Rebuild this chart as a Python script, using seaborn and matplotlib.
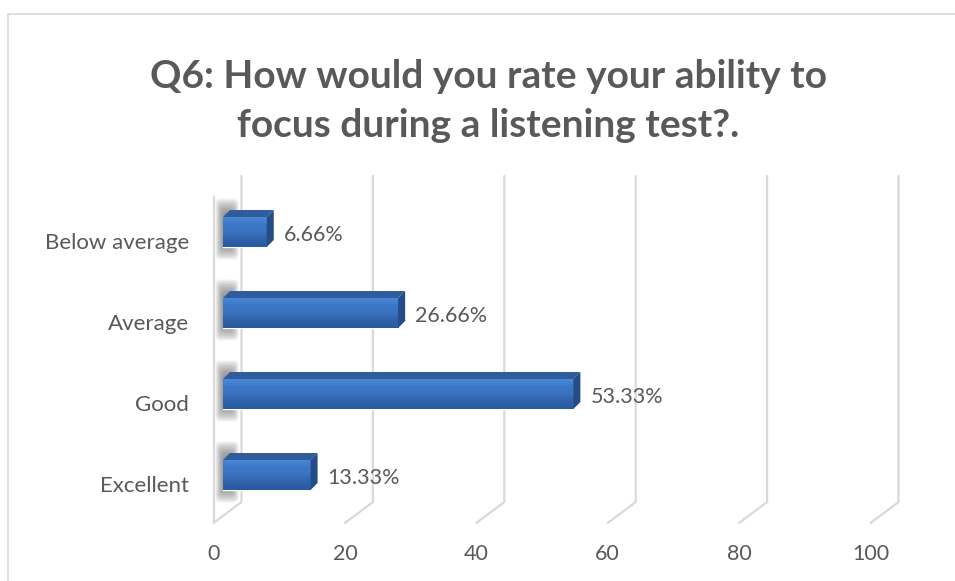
import numpy as np
import pandas as pd
import matplotlib
matplotlib.use("Agg")
import matplotlib.pyplot as plt
import seaborn as sns
from matplotlib.patches import Polygon, Rectangle, FancyBboxPatch
from matplotlib.lines import Line2D
from matplotlib.colors import LinearSegmentedColormap
from matplotlib.transforms import Affine2D, IdentityTransform, blended_transform_factory

# ---- data -------------------------------------------------------------
categories = ["Below average", "Average", "Good", "Excellent"]
percentages = [6.66, 26.66, 53.33, 13.33]
value_labels = ["6.66%", "26.66%", "53.33%", "13.33%"]
x_ticks = [0, 20, 40, 60, 80, 100]
title = "Q6: How would you rate your ability to\nfocus during a listening test?."

# ---- style ------------------------------------------------------------
sns.set_theme(style="white")
plt.rcParams["font.family"] = ["Lato", "DejaVu Sans"]
TEXT = "#595959"
GRID = "#D9D9D9"
BAR = "#3A72C2"
TOP_FACE = "#2E5C9C"
SIDE_FACE = "#244C86"
LABEL_SIZE = 15.5

W, H = 955, 581
fig = plt.figure(figsize=(W / 100, H / 100), dpi=100)
fig.patch.set_facecolor("white")


def fx(px):
    return px / W


def fy(py):
    return 1 - py / H


# outer chart frame
fig.add_artist(Rectangle((fx(7.5), -0.1), 1.2, fy(13.5) + 0.1,
                         transform=fig.transFigure, fill=False,
                         edgecolor=GRID, lw=1.2, zorder=-3))

# axes = front plane of the bars
ax = fig.add_axes([fx(223), fy(515.5), (880 - 223) / W, (515.5 - 191.5) / H])
df = pd.DataFrame({"category": categories, "pct": percentages})
sns.barplot(data=df, x="pct", y="category", order=categories, orient="h",
            color=BAR, saturation=1, width=0.37, ax=ax, zorder=3)
ax.set_xlim(0, 100)
ax.set_ylim(len(categories) - 0.5, -0.5)
ax.axis("off")

# oblique depth offsets (pixels) relative to the bar plane
BACK = (18.5, 13.5)      # back wall
FRONT = (-9.5, -7.5)     # front edge of the floor
WALL_TOP_BACK = 15.5     # back-wall gridlines rise above the plot box
WALL_TOP_FRONT = -5.5    # front edge of the side wall starts below it
BAR_DEPTH = (7, 7)       # depth of each bar block

ident = IdentityTransform()
box = ax.get_window_extent()
y_bot, y_top = box.y0, box.y1

# gridlines on back wall + their run across the floor (behind the axes)
for v in x_ticks:
    xd = ax.transData.transform((v, 0))[0]
    xb, xf = xd + BACK[0], xd + FRONT[0]
    fig.add_artist(Line2D([xb, xb, xf],
                          [y_top + WALL_TOP_BACK, y_bot + BACK[1], y_bot + FRONT[1]],
                          transform=ident, color=GRID, lw=1.6, zorder=-2))
# front edge of the side wall
x0f = ax.transData.transform((x_ticks[0], 0))[0] + FRONT[0]
fig.add_artist(Line2D([x0f, x0f], [y_top + WALL_TOP_FRONT, y_bot + FRONT[1]],
                      transform=ident, color=GRID, lw=1.6, zorder=-2))

# tick labels on the front edge of the floor
tick_tr = blended_transform_factory(ax.transData, ax.transAxes) + \
    Affine2D().translate(FRONT[0], -38)
for v in x_ticks:
    ax.text(v, 0, str(v), transform=tick_tr, ha="center", va="center",
            fontsize=LABEL_SIZE, color=TEXT, clip_on=False)

# bars: front-face gradient, top & side faces, wall shadow
grad_cmap = LinearSegmentedColormap.from_list(
    "bar", ["#4A88D8", "#3C77C6", "#3A72C0", "#2F62AA", "#2A5A9E"])
grad = np.linspace(0, 1, 64).reshape(-1, 1)
for p in list(ax.patches):
    x0, y0 = p.get_x(), p.get_y()
    w, h = p.get_width(), p.get_height()
    ax.imshow(grad, extent=[x0, x0 + w, y0 + h, y0], aspect="auto",
              cmap=grad_cmap, zorder=4, interpolation="bicubic")
    (dx0, dyt), (dx1, dyb) = ax.transData.transform([(x0, y0), (x0 + w, y0 + h)])
    # display coords: dyt is the upper edge
    ddx, ddy = BAR_DEPTH
    top = Polygon([(dx0, dyt), (dx1, dyt), (dx1 + ddx, dyt + ddy), (dx0 + ddx, dyt + ddy)],
                  closed=True, transform=ident, facecolor=TOP_FACE, edgecolor="none", zorder=5)
    side = Polygon([(dx1, dyt), (dx1 + ddx, dyt + ddy), (dx1 + ddx, dyb + ddy), (dx1, dyb)],
                   closed=True, transform=ident, facecolor=SIDE_FACE, edgecolor="none", zorder=5)
    fig.add_artist(top)
    fig.add_artist(side)
    # soft shadow cast on the left wall (behind the axes)
    cx = dx0 + 4
    cy = (dyt + dyb) / 2 + 3
    hh = (dyt - dyb) / 2
    for k in range(10):
        g = k * 1.5
        sh = FancyBboxPatch((cx - 4 - g * 0.55, cy - hh - 2 - g), 8 + g * 1.1, 2 * hh + 4 + 2 * g,
                            boxstyle="round,pad=0,rounding_size=5", transform=ident,
                            facecolor="#5f5f5f", edgecolor="none", alpha=0.09, zorder=-1)
        fig.add_artist(sh)

ax.set_xlim(0, 100)
ax.set_ylim(len(categories) - 0.5, -0.5)

# value labels
val_tr = ax.transData + Affine2D().translate(BAR_DEPTH[0] + 10, -3)
for i, (v, lab) in enumerate(zip(percentages, value_labels)):
    ax.text(v, i, lab, transform=val_tr, ha="left", va="center",
            fontsize=LABEL_SIZE, color=TEXT, clip_on=False, zorder=6)

# category labels
cat_tr = ax.transData + Affine2D().translate(-34, -11)
for i, c in enumerate(categories):
    ax.text(0, i, c, transform=cat_tr, ha="right", va="center",
            fontsize=16, color=TEXT, clip_on=False)

fig.text(fx(488), fy(101), title, ha="center", va="center", fontsize=28,
         fontweight="bold", color=TEXT, linespacing=1.45)

fig.savefig("out.png", dpi=100, facecolor="white")
